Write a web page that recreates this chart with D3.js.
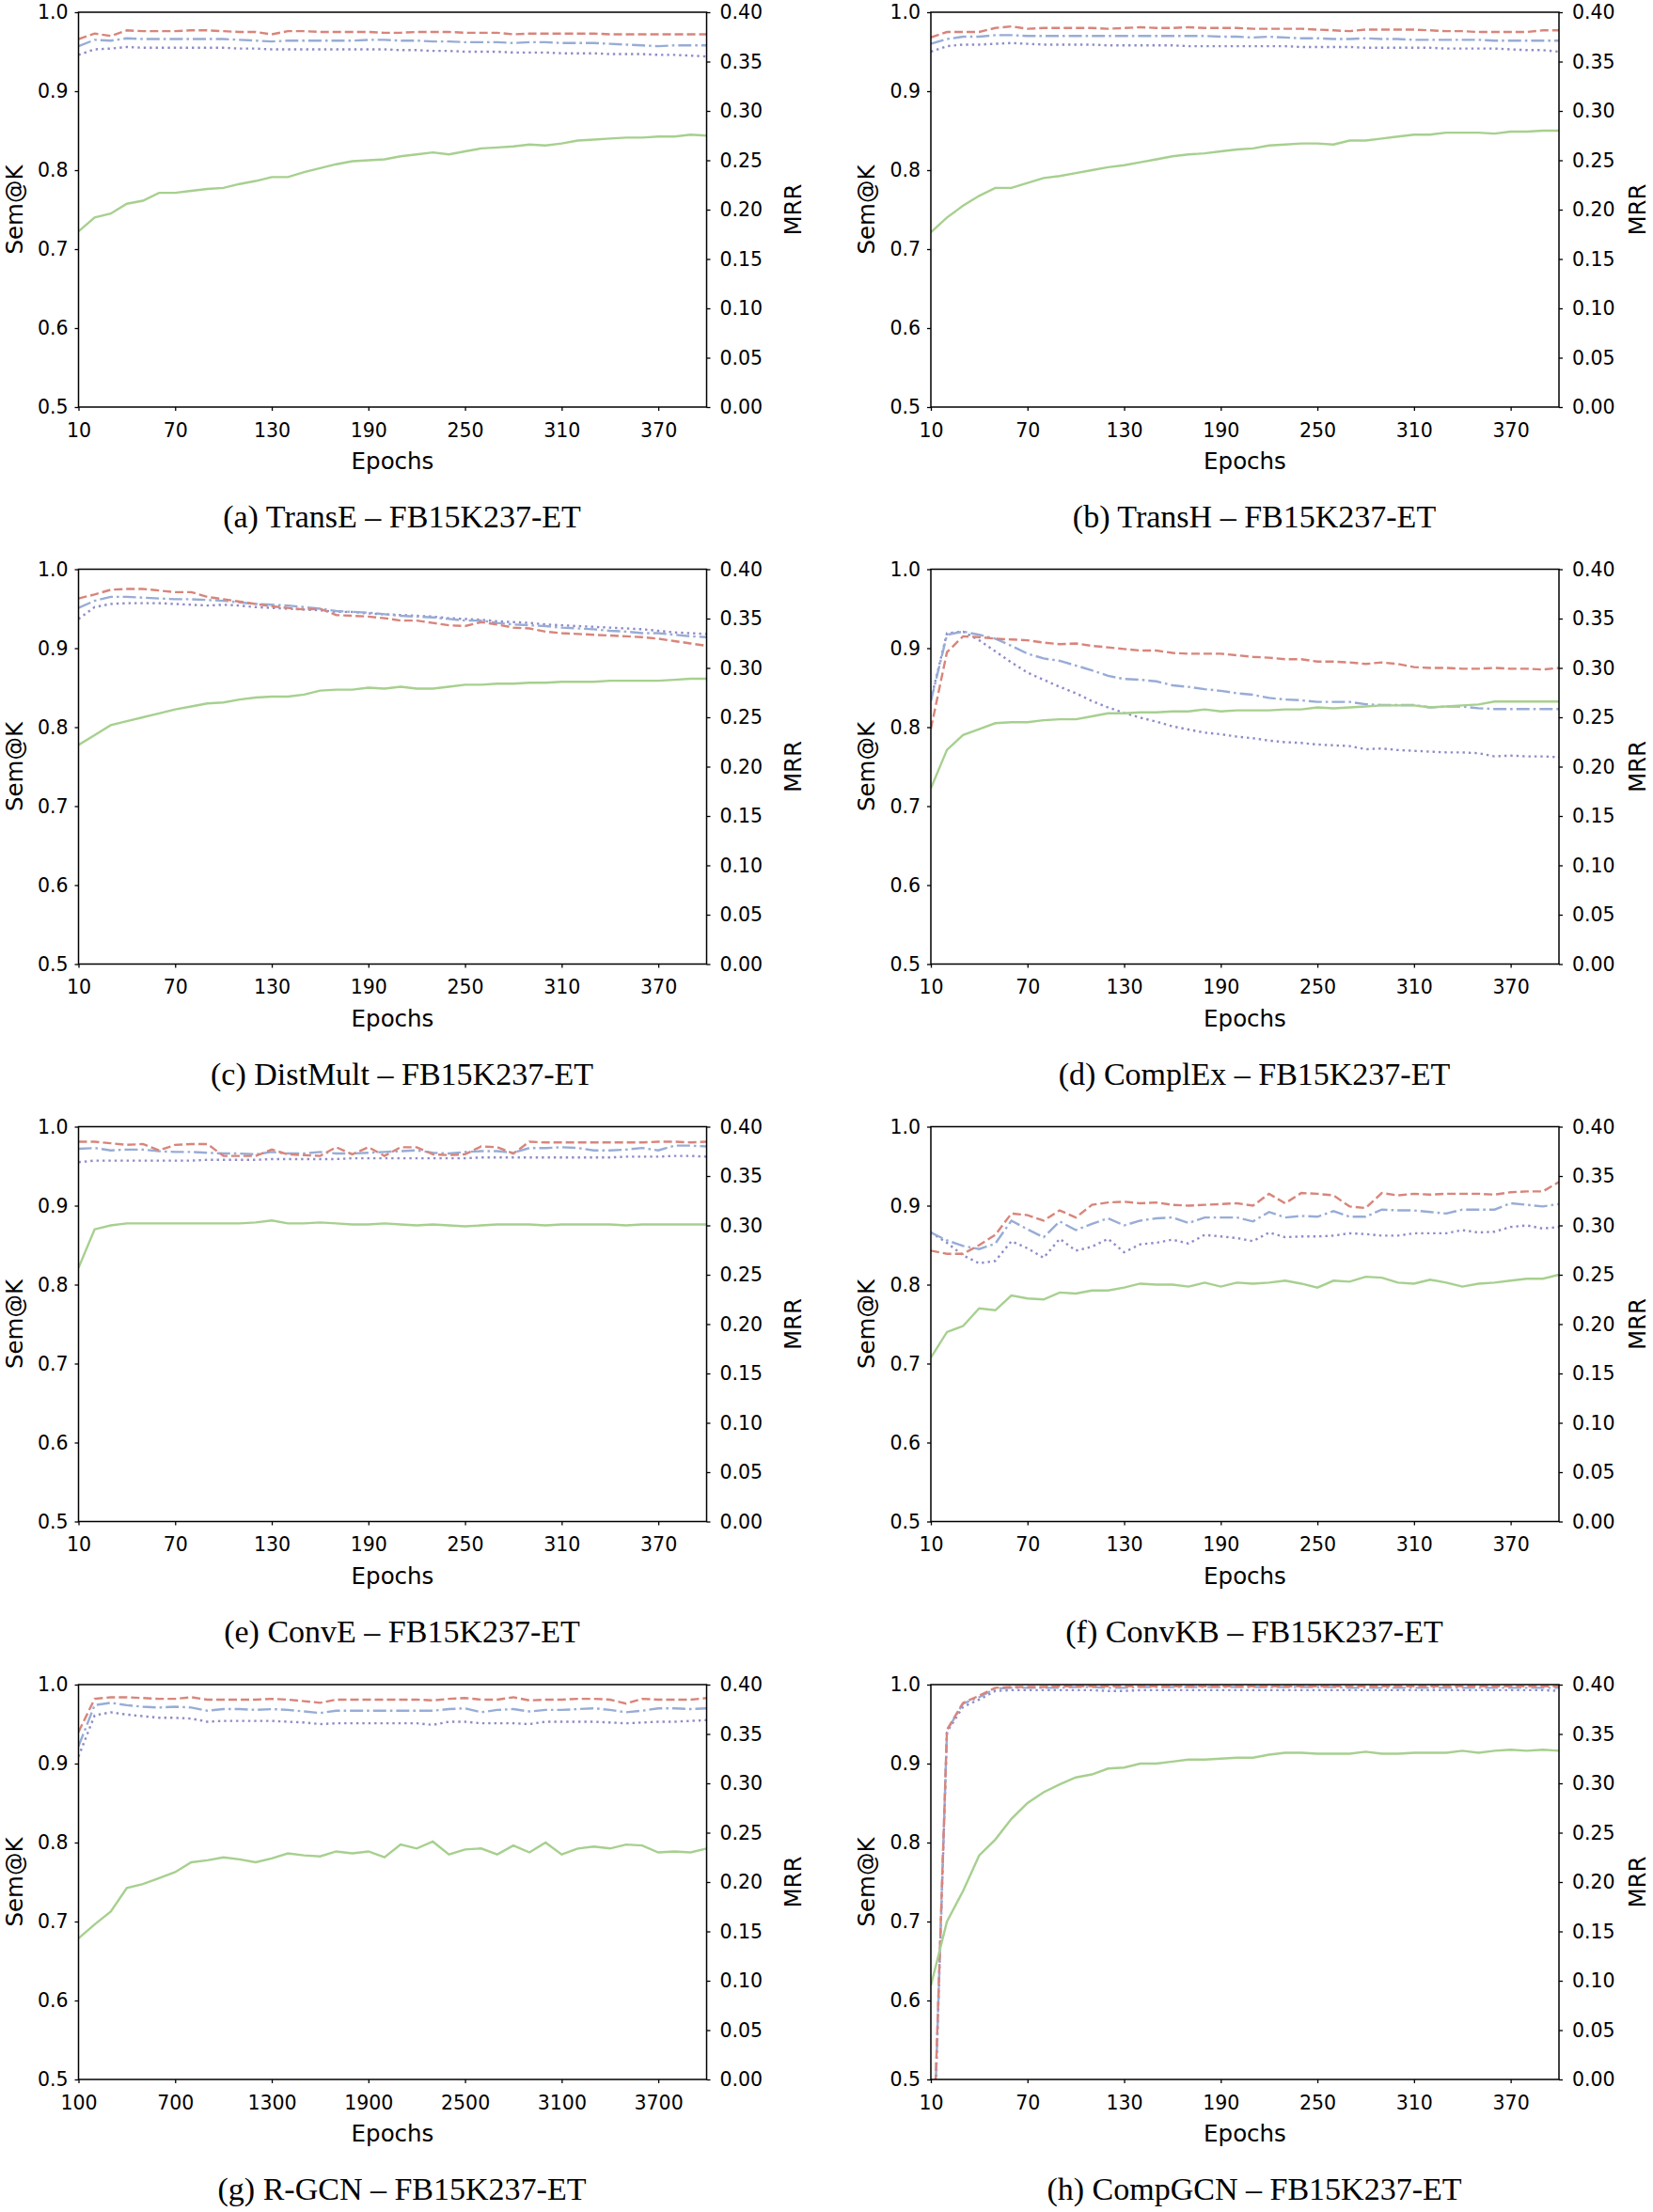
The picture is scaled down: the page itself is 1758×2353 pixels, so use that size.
<!DOCTYPE html>
<html><head><meta charset="utf-8">
<script src="https://cdn.jsdelivr.net/npm/d3@7"></script>
<style>body{margin:0;background:#fff}svg{display:block}</style>
</head><body>
<svg id="chart" width="1758" height="2353"></svg>
<script>
// ---------- categories / ticks ----------
const epochs = [10,20,30,40,50,60,70,80,90,100,110,120,130,140,150,160,170,180,190,200,
  210,220,230,240,250,260,270,280,290,300,310,320,330,340,350,360,370,380,390,400];
const rgcnEpochs = [100,200,300,400,500,600,700,800,900,1000,1100,1200,1300,1400,1500,1600,1700,1800,1900,2000,
  2100,2200,2300,2400,2500,2600,2700,2800,2900,3000,3100,3200,3300,3400,3500,3600,3700,3800,3900,4000];
const epochTicks = [10,70,130,190,250,310,370];
const rgcnEpochTicks = [100,700,1300,1900,2500,3100,3700];
const semTicks = [0.5,0.6,0.7,0.8,0.9,1.0];
const mrrTicks = [0,0.05,0.10,0.15,0.20,0.25,0.30,0.35,0.40];
const captions = ["(a) TransE – FB15K237-ET","(b) TransH – FB15K237-ET","(c) DistMult – FB15K237-ET","(d) ComplEx – FB15K237-ET",
  "(e) ConvE – FB15K237-ET","(f) ConvKB – FB15K237-ET","(g) R-GCN – FB15K237-ET","(h) CompGCN – FB15K237-ET"];

// ---------- (a) TransE ----------
const transE_sem1 = [0.966,0.973,0.970,0.977,0.976,0.976,0.976,0.977,0.977,0.976,0.975,0.975,0.972,0.976,0.976,0.975,0.975,0.975,0.975,0.974,
  0.974,0.975,0.975,0.975,0.974,0.974,0.974,0.972,0.973,0.973,0.973,0.973,0.973,0.972,0.972,0.972,0.972,0.972,0.972,0.972];
const transE_sem3 = [0.957,0.965,0.964,0.967,0.966,0.966,0.966,0.966,0.966,0.966,0.965,0.964,0.963,0.964,0.964,0.964,0.964,0.964,0.965,0.965,
  0.964,0.964,0.963,0.963,0.962,0.962,0.962,0.961,0.962,0.962,0.961,0.961,0.961,0.960,0.959,0.958,0.957,0.958,0.958,0.958];
const transE_sem10 = [0.946,0.953,0.954,0.956,0.955,0.955,0.955,0.955,0.955,0.955,0.954,0.954,0.953,0.953,0.953,0.953,0.953,0.953,0.953,0.953,
  0.952,0.952,0.951,0.951,0.950,0.950,0.950,0.949,0.949,0.949,0.948,0.948,0.948,0.947,0.947,0.947,0.946,0.946,0.945,0.944];
const transE_mrr = [0.178,0.192,0.196,0.206,0.209,0.217,0.217,0.219,0.221,0.222,0.226,0.229,0.233,0.233,0.238,0.242,0.246,0.249,0.250,0.251,
  0.254,0.256,0.258,0.256,0.259,0.262,0.263,0.264,0.266,0.265,0.267,0.270,0.271,0.272,0.273,0.273,0.274,0.274,0.276,0.275];

// ---------- (b) TransH ----------
const transH_sem1 = [0.968,0.975,0.975,0.975,0.980,0.982,0.979,0.980,0.980,0.980,0.980,0.979,0.980,0.981,0.980,0.980,0.981,0.980,0.980,0.980,
  0.979,0.979,0.979,0.979,0.978,0.977,0.976,0.978,0.978,0.978,0.978,0.977,0.976,0.976,0.975,0.975,0.975,0.975,0.977,0.977];
const transH_sem3 = [0.960,0.966,0.969,0.969,0.971,0.971,0.970,0.970,0.970,0.970,0.970,0.970,0.970,0.970,0.970,0.970,0.970,0.970,0.969,0.969,
  0.968,0.969,0.968,0.967,0.967,0.966,0.966,0.967,0.966,0.966,0.965,0.965,0.965,0.965,0.965,0.964,0.964,0.964,0.964,0.964];
const transH_sem10 = [0.950,0.957,0.959,0.959,0.960,0.961,0.960,0.959,0.959,0.959,0.959,0.958,0.958,0.958,0.958,0.958,0.957,0.957,0.957,0.957,
  0.957,0.957,0.957,0.956,0.956,0.956,0.956,0.955,0.955,0.955,0.955,0.955,0.954,0.954,0.954,0.954,0.953,0.952,0.952,0.950];
const transH_mrr = [0.177,0.192,0.204,0.214,0.222,0.222,0.227,0.232,0.234,0.237,0.240,0.243,0.245,0.248,0.251,0.254,0.256,0.257,0.259,0.261,
  0.262,0.265,0.266,0.267,0.267,0.266,0.270,0.270,0.272,0.274,0.276,0.276,0.278,0.278,0.278,0.277,0.279,0.279,0.280,0.280];

// ---------- (c) DistMult ----------
const distMult_sem1 = [0.963,0.968,0.974,0.975,0.975,0.973,0.971,0.971,0.965,0.962,0.959,0.956,0.953,0.951,0.949,0.950,0.942,0.941,0.940,0.938,
  0.935,0.935,0.932,0.929,0.928,0.933,0.930,0.926,0.925,0.921,0.919,0.918,0.917,0.916,0.915,0.914,0.912,0.909,0.906,0.903];
const distMult_sem3 = [0.951,0.960,0.965,0.965,0.964,0.963,0.962,0.962,0.961,0.960,0.958,0.956,0.955,0.954,0.952,0.950,0.947,0.946,0.945,0.943,
  0.941,0.940,0.939,0.937,0.935,0.935,0.932,0.930,0.929,0.928,0.926,0.925,0.924,0.922,0.921,0.919,0.919,0.917,0.915,0.914];
const distMult_sem10 = [0.937,0.952,0.956,0.957,0.957,0.957,0.956,0.955,0.954,0.955,0.954,0.952,0.951,0.950,0.949,0.948,0.946,0.946,0.944,0.943,
  0.942,0.941,0.940,0.938,0.937,0.936,0.934,0.933,0.932,0.930,0.929,0.928,0.927,0.926,0.925,0.924,0.922,0.920,0.919,0.918];
const distMult_mrr = [0.222,0.232,0.242,0.246,0.250,0.254,0.258,0.261,0.264,0.265,0.268,0.270,0.271,0.271,0.273,0.277,0.278,0.278,0.280,0.279,
  0.281,0.279,0.279,0.281,0.283,0.283,0.284,0.284,0.285,0.285,0.286,0.286,0.286,0.287,0.287,0.287,0.287,0.288,0.289,0.289];

// ---------- (d) ComplEx ----------
const complEx_sem1 = [0.798,0.895,0.915,0.914,0.912,0.911,0.910,0.907,0.905,0.906,0.903,0.901,0.899,0.897,0.897,0.894,0.893,0.893,0.893,0.891,
  0.889,0.888,0.886,0.886,0.883,0.883,0.882,0.880,0.882,0.880,0.876,0.875,0.875,0.874,0.874,0.875,0.874,0.874,0.873,0.875];
const complEx_sem3 = [0.833,0.917,0.921,0.917,0.912,0.903,0.893,0.887,0.884,0.878,0.872,0.865,0.861,0.860,0.858,0.853,0.851,0.848,0.846,0.843,
  0.841,0.837,0.835,0.834,0.832,0.832,0.832,0.829,0.828,0.828,0.828,0.825,0.826,0.826,0.824,0.823,0.823,0.823,0.823,0.823];
const complEx_sem10 = [0.835,0.919,0.921,0.910,0.896,0.882,0.869,0.860,0.851,0.843,0.833,0.825,0.818,0.812,0.807,0.801,0.797,0.793,0.791,0.788,
  0.786,0.783,0.781,0.780,0.778,0.777,0.776,0.772,0.773,0.771,0.770,0.769,0.768,0.768,0.767,0.763,0.764,0.763,0.763,0.762];
const complEx_mrr = [0.178,0.217,0.232,0.238,0.244,0.245,0.245,0.247,0.248,0.248,0.251,0.254,0.254,0.255,0.255,0.256,0.256,0.258,0.256,0.257,
  0.257,0.257,0.258,0.258,0.260,0.259,0.260,0.261,0.262,0.262,0.262,0.260,0.261,0.262,0.263,0.266,0.266,0.266,0.266,0.266];

// ---------- (e) ConvE ----------
const convE_sem1 = [0.981,0.981,0.979,0.977,0.978,0.970,0.977,0.978,0.978,0.963,0.963,0.963,0.971,0.965,0.964,0.963,0.974,0.965,0.974,0.963,
  0.974,0.974,0.965,0.964,0.965,0.975,0.974,0.966,0.981,0.980,0.980,0.980,0.980,0.980,0.980,0.980,0.981,0.981,0.980,0.981];
const convE_sem3 = [0.972,0.973,0.970,0.971,0.971,0.969,0.968,0.968,0.967,0.966,0.966,0.965,0.968,0.966,0.966,0.968,0.966,0.966,0.967,0.968,
  0.969,0.970,0.967,0.966,0.968,0.969,0.969,0.967,0.973,0.973,0.974,0.973,0.970,0.970,0.971,0.973,0.970,0.976,0.976,0.975];
const convE_sem10 = [0.955,0.957,0.957,0.957,0.957,0.957,0.957,0.957,0.958,0.958,0.958,0.958,0.959,0.959,0.959,0.959,0.959,0.960,0.960,0.960,
  0.960,0.960,0.960,0.960,0.960,0.961,0.961,0.961,0.961,0.961,0.961,0.961,0.961,0.961,0.962,0.962,0.962,0.963,0.963,0.962];
const convE_mrr = [0.257,0.296,0.300,0.302,0.302,0.302,0.302,0.302,0.302,0.302,0.302,0.303,0.305,0.302,0.302,0.303,0.302,0.301,0.301,0.302,
  0.301,0.300,0.301,0.300,0.299,0.300,0.301,0.301,0.301,0.300,0.301,0.301,0.301,0.301,0.300,0.301,0.301,0.301,0.301,0.301];

// ---------- (f) ConvKB ----------
const convKB_sem1 = [0.843,0.839,0.839,0.850,0.863,0.890,0.888,0.881,0.894,0.885,0.901,0.904,0.905,0.903,0.904,0.901,0.900,0.901,0.902,0.903,
  0.900,0.915,0.903,0.916,0.915,0.913,0.899,0.897,0.916,0.913,0.915,0.914,0.915,0.915,0.915,0.914,0.917,0.918,0.918,0.930];
const convKB_sem3 = [0.866,0.856,0.849,0.845,0.852,0.881,0.870,0.860,0.880,0.869,0.877,0.884,0.875,0.881,0.884,0.885,0.878,0.885,0.885,0.885,
  0.880,0.892,0.885,0.887,0.886,0.893,0.886,0.886,0.895,0.894,0.894,0.892,0.890,0.895,0.895,0.895,0.903,0.901,0.899,0.902];
const convKB_sem10 = [0.866,0.853,0.837,0.827,0.830,0.855,0.846,0.834,0.858,0.843,0.848,0.858,0.841,0.851,0.853,0.857,0.852,0.863,0.861,0.859,
  0.855,0.866,0.860,0.861,0.861,0.862,0.865,0.864,0.862,0.862,0.865,0.865,0.865,0.869,0.866,0.867,0.873,0.875,0.871,0.873];
const convKB_mrr = [0.166,0.192,0.198,0.216,0.214,0.229,0.226,0.225,0.232,0.231,0.234,0.234,0.237,0.241,0.240,0.240,0.238,0.242,0.238,0.242,
  0.241,0.242,0.244,0.241,0.237,0.244,0.243,0.248,0.247,0.242,0.241,0.245,0.242,0.238,0.241,0.242,0.244,0.246,0.246,0.250];

// ---------- (g) R-GCN ----------
const rgcn_sem1 = [0.940,0.982,0.984,0.984,0.983,0.982,0.982,0.984,0.981,0.981,0.981,0.981,0.982,0.981,0.979,0.977,0.981,0.981,0.981,0.981,
  0.981,0.981,0.980,0.982,0.983,0.981,0.981,0.984,0.980,0.981,0.981,0.982,0.982,0.981,0.976,0.982,0.981,0.981,0.981,0.983];
const rgcn_sem3 = [0.922,0.974,0.977,0.974,0.972,0.971,0.972,0.971,0.967,0.969,0.969,0.968,0.969,0.968,0.966,0.964,0.967,0.967,0.967,0.967,
  0.967,0.967,0.967,0.969,0.970,0.965,0.968,0.969,0.966,0.968,0.968,0.969,0.970,0.968,0.965,0.967,0.970,0.970,0.969,0.970];
const rgcn_sem10 = [0.909,0.961,0.965,0.962,0.960,0.958,0.958,0.957,0.953,0.954,0.954,0.954,0.954,0.953,0.952,0.950,0.951,0.951,0.951,0.951,
  0.951,0.951,0.949,0.953,0.953,0.951,0.951,0.951,0.950,0.953,0.953,0.953,0.953,0.952,0.951,0.952,0.953,0.953,0.954,0.955];
const rgcn_mrr = [0.143,0.157,0.170,0.194,0.198,0.204,0.210,0.220,0.222,0.225,0.223,0.220,0.224,0.229,0.227,0.226,0.231,0.229,0.231,0.225,
  0.238,0.234,0.241,0.228,0.233,0.234,0.228,0.237,0.230,0.240,0.228,0.234,0.236,0.234,0.238,0.237,0.230,0.231,0.230,0.234];

// ---------- (h) CompGCN ----------
const compGCN_sem1 = [0.310,0.943,0.977,0.986,0.996,0.997,0.997,0.997,0.998,0.998,0.998,0.998,0.998,0.998,0.998,0.998,0.998,0.998,0.998,0.998,
  0.998,0.998,0.998,0.998,0.998,0.998,0.998,0.998,0.998,0.998,0.998,0.998,0.998,0.998,0.998,0.998,0.998,0.998,0.998,0.998];
const compGCN_sem3 = [0.300,0.942,0.976,0.984,0.995,0.996,0.996,0.996,0.996,0.997,0.997,0.996,0.996,0.997,0.997,0.997,0.997,0.997,0.997,0.997,
  0.997,0.997,0.997,0.997,0.997,0.997,0.996,0.996,0.996,0.996,0.996,0.996,0.996,0.996,0.996,0.996,0.996,0.996,0.996,0.996];
const compGCN_sem10 = [0.290,0.940,0.972,0.981,0.992,0.993,0.993,0.993,0.993,0.993,0.993,0.992,0.992,0.993,0.993,0.993,0.993,0.993,0.993,0.993,
  0.993,0.993,0.993,0.993,0.993,0.993,0.993,0.993,0.993,0.993,0.993,0.993,0.993,0.993,0.993,0.993,0.993,0.993,0.993,0.992];
const compGCN_mrr = [0.095,0.160,0.191,0.227,0.243,0.264,0.280,0.291,0.299,0.306,0.309,0.315,0.316,0.320,0.320,0.322,0.324,0.324,0.325,0.326,
  0.326,0.329,0.331,0.331,0.330,0.330,0.330,0.332,0.330,0.330,0.331,0.331,0.331,0.333,0.331,0.333,0.334,0.333,0.334,0.333];

// ---------- assemble ----------
const panels = [
  {x: epochs, ticks: epochTicks, sem1: transE_sem1, sem3: transE_sem3, sem10: transE_sem10, mrr: transE_mrr},
  {x: epochs, ticks: epochTicks, sem1: transH_sem1, sem3: transH_sem3, sem10: transH_sem10, mrr: transH_mrr},
  {x: epochs, ticks: epochTicks, sem1: distMult_sem1, sem3: distMult_sem3, sem10: distMult_sem10, mrr: distMult_mrr},
  {x: epochs, ticks: epochTicks, sem1: complEx_sem1, sem3: complEx_sem3, sem10: complEx_sem10, mrr: complEx_mrr},
  {x: epochs, ticks: epochTicks, sem1: convE_sem1, sem3: convE_sem3, sem10: convE_sem10, mrr: convE_mrr},
  {x: epochs, ticks: epochTicks, sem1: convKB_sem1, sem3: convKB_sem3, sem10: convKB_sem10, mrr: convKB_mrr},
  {x: rgcnEpochs, ticks: rgcnEpochTicks, sem1: rgcn_sem1, sem3: rgcn_sem3, sem10: rgcn_sem10, mrr: rgcn_mrr},
  {x: epochs, ticks: epochTicks, sem1: compGCN_sem1, sem3: compGCN_sem3, sem10: compGCN_sem10, mrr: compGCN_mrr}
];
panels.forEach((p, i) => p.caption = captions[i]);

// ---------- layout ----------
const colLeft = [83.5, 990];
const rowTop = [13, 605.5, 1198.5, 1792];
const W = 668, H = 420;
const sans = "'DejaVu Sans', sans-serif";
const serif = "'Liberation Serif', 'Times New Roman', serif";
const tickFont = 20.5, labelFont = 24.5;

const styles = [
  {key: "sem10", color: "#8e8cc9", dash: "2.4,4"},
  {key: "sem3", color: "#98acd6", dash: "14,4,2.6,4"},
  {key: "sem1", color: "#d8857b", dash: "9,4"}
];

const svg = d3.select("#chart");
const defs = svg.append("defs");

panels.forEach((p, i) => {
  const col = i % 2;
  const left = colLeft[col], top = rowTop[Math.floor(i / 2)];
  const g = svg.append("g").attr("transform", `translate(${left},${top})`);
  const x = d3.scaleLinear().domain([p.x[0], p.x[p.x.length - 1]]).range([0, W]);
  const y = d3.scaleLinear().domain([0.5, 1.0]).range([H, 0]);
  const yR = d3.scaleLinear().domain([0, 0.4]).range([H, 0]);

  defs.append("clipPath").attr("id", "clip" + i)
    .append("rect").attr("x", 0).attr("y", 0).attr("width", W).attr("height", H);

  const plot = g.append("g").attr("clip-path", `url(#clip${i})`);
  styles.forEach(s => {
    const line = d3.line().x((d, j) => x(p.x[j])).y(d => y(d));
    plot.append("path").datum(p[s.key])
      .attr("d", line).attr("fill", "none")
      .attr("stroke", s.color).attr("stroke-width", 2.4)
      .attr("stroke-dasharray", s.dash).attr("stroke-linecap", "butt");
  });
  const mline = d3.line().x((d, j) => x(p.x[j])).y(d => yR(d));
  plot.append("path").datum(p.mrr).attr("d", mline).attr("fill", "none")
    .attr("stroke", "#a7d08f").attr("stroke-width", 2.4);

  // frame
  g.append("rect").attr("width", W).attr("height", H).attr("fill", "none")
    .attr("stroke", "#000").attr("stroke-width", 1.5);

  const styleAxis = sel => {
    sel.select(".domain").remove();
    sel.selectAll(".tick line").attr("stroke", "#000").attr("stroke-width", 1.3);
    sel.selectAll("text").attr("font-family", sans).attr("font-size", tickFont).attr("fill", "#000");
  };

  g.append("g").attr("transform", `translate(0,${H})`)
    .call(d3.axisBottom(x).tickValues(p.ticks).tickFormat(d3.format("d")).tickSize(4).tickPadding(13))
    .call(styleAxis);
  g.append("g")
    .call(d3.axisLeft(y).tickValues(semTicks).tickFormat(d3.format(".1f")).tickSize(4).tickPadding(7))
    .call(styleAxis);
  g.append("g").attr("transform", `translate(${W},0)`)
    .call(d3.axisRight(yR).tickValues(mrrTicks).tickFormat(d3.format(".2f")).tickSize(4).tickPadding(10))
    .call(styleAxis);

  g.append("text").attr("x", W / 2).attr("y", H + 66).attr("text-anchor", "middle")
    .attr("font-family", sans).attr("font-size", labelFont).text("Epochs");
  g.append("text").attr("transform", `translate(-60,${H / 2}) rotate(-90)`).attr("text-anchor", "middle")
    .attr("font-family", sans).attr("font-size", labelFont).text("Sem@K");
  g.append("text").attr("transform", `translate(${W + (col ? 92 : 100)},${H / 2}) rotate(-90)`).attr("text-anchor", "middle")
    .attr("font-family", sans).attr("font-size", labelFont).text("MRR");
  g.append("text").attr("x", W / 2 + 10).attr("y", H + 128).attr("text-anchor", "middle")
    .attr("font-family", serif).attr("font-size", 34).text(p.caption);
});
</script>
</body></html>
